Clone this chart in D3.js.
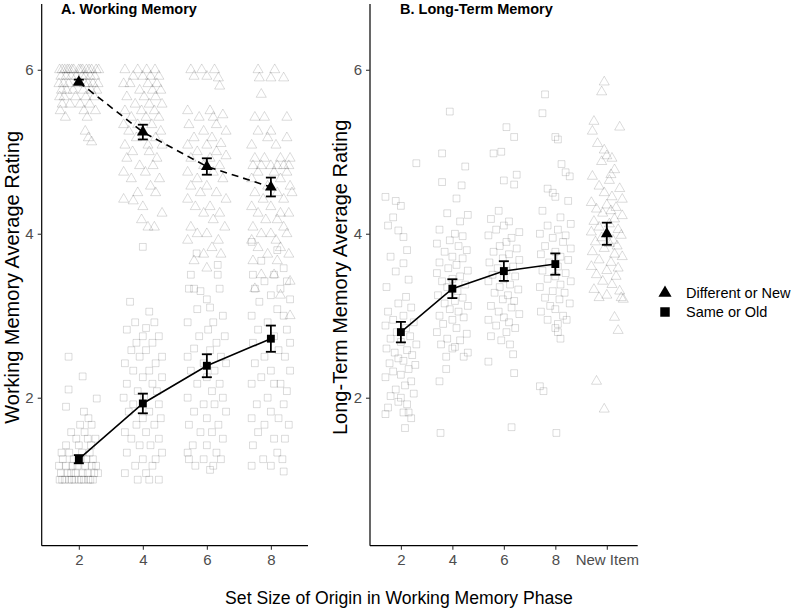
<!DOCTYPE html>
<html><head><meta charset="utf-8">
<script src="https://cdn.jsdelivr.net/npm/d3@7"></script>
<style>body{margin:0;background:#fff}svg{display:block;font-family:"Liberation Sans",Arial,sans-serif}</style>
</head><body>
<script>
// ---------- data ----------
const catsA = ["2","4","6","8"];
const catsB = ["2","4","6","8","New Item"];
const yTicks = [2,4,6];
const legendLabels = ["Different or New","Same or Old"];
const titleA = "A. Working Memory";
const titleB = "B. Long-Term Memory";
const yTitleA = "Working Memory Average Rating";
const yTitleB = "Long-Term Memory Average Rating";
const xTitle = "Set Size of Origin in Working Memory Phase";

// means and standard errors
const meanA_diff = [5.85,5.24,4.82,4.57];
const seA_diff   = [0.03,0.09,0.10,0.115];
const meanA_same = [1.25,1.93,2.39,2.72];
const seA_same   = [0.05,0.12,0.14,0.16];
const meanB_same = [2.80,3.33,3.545,3.63];
const seB_same   = [0.125,0.115,0.12,0.13];
const meanB_new  = [4.00];
const seB_new    = [0.135];

// individual participants: [jitter (fraction of category step), rating]
const A2_diff = [[-0.30,6.0],[-0.22,6.0],[-0.15,6.0],[-0.08,6.0],[0.0,6.0],[0.06,6.0],[0.12,6.0],[0.2,6.0],[0.27,6.0],[-0.26,6.0],[0.03,6.0],[-0.11,6.0],[0.16,6.0],[0.31,6.0],[-0.18,6.0],
[-0.28,5.92],[-0.12,5.92],[0.05,5.92],[0.18,5.92],[0.25,5.92],[-0.04,5.92],[0.1,5.92],[-0.2,5.92],
[-0.31,5.83],[-0.16,5.83],[-0.02,5.83],[0.09,5.83],[0.22,5.83],[0.3,5.83],[-0.24,5.83],[0.14,5.83],
[-0.27,5.75],[-0.09,5.75],[0.07,5.75],[0.19,5.75],[0.28,5.75],[-0.19,5.75],
[-0.23,5.67],[-0.05,5.67],[0.11,5.67],[0.24,5.67],[-0.3,5.67],
[-0.14,5.58],[0.02,5.58],[0.17,5.58],[-0.26,5.58],
[-0.29,5.5],[0.08,5.5],[0.26,5.5],[-0.21,5.42],[0.13,5.42],
[0.1,5.25],[0.15,5.17],[0.2,5.12]];
const A2_same = [[-0.3,1.0],[-0.22,1.0],[-0.15,1.0],[-0.07,1.0],[0.0,1.0],[0.08,1.0],[0.15,1.0],[0.22,1.0],[-0.26,1.0],[0.04,1.0],[0.18,1.0],[-0.11,1.0],
[-0.28,1.08],[-0.18,1.08],[-0.05,1.08],[0.06,1.08],[0.14,1.08],[0.24,1.08],[-0.12,1.08],[0.3,1.08],
[-0.31,1.17],[-0.2,1.17],[-0.02,1.17],[0.1,1.17],[0.2,1.17],[0.27,1.17],[-0.1,1.17],
[-0.25,1.25],[-0.08,1.25],[0.12,1.25],[0.22,1.25],[0.03,1.25],
[-0.15,1.33],[0.05,1.33],[0.17,1.33],[-0.27,1.33],
[0.0,1.42],[0.19,1.42],[-0.2,1.42],[-0.04,1.5],[0.14,1.5],[0.26,1.5],
[0.09,1.58],[-0.12,1.58],[0.2,1.67],[0.02,1.67],[0.15,1.75],[0.08,1.83],
[-0.2,1.89],[0.28,1.99],[-0.16,2.1],[0.06,2.26],[-0.16,2.5]];
const A4_diff = [[-0.28,6.0],[-0.08,6.0],[0.06,6.0],[0.19,6.0],[0.0,5.92],[0.25,5.92],[-0.15,5.92],[0.12,5.92],
[-0.2,5.83],[0.08,5.83],[0.22,5.83],[-0.3,5.83],[-0.05,5.75],[0.15,5.75],[0.28,5.75],
[-0.25,5.67],[0.02,5.67],[0.2,5.67],[-0.12,5.58],[0.1,5.58],[0.3,5.58],[-0.28,5.5],[-0.02,5.5],[0.18,5.5],
[-0.18,5.42],[0.05,5.42],[0.25,5.42],[-0.3,5.33],[-0.08,5.33],[0.14,5.33],[0.28,5.25],[-0.22,5.25],[0.0,5.25],
[-0.1,5.17],[0.2,5.17],[-0.28,5.08],[0.08,5.08],[0.3,5.08],[-0.16,5.0],[0.1,5.0],[0.22,4.92],[-0.25,4.92],
[-0.05,4.83],[0.16,4.83],[-0.3,4.75],[0.04,4.75],[0.26,4.67],[-0.18,4.67],[0.12,4.58],[-0.08,4.5],[0.2,4.5],
[-0.3,4.42],[-0.15,4.4],[0.0,4.33],[0.3,4.25],[-0.02,4.17],[0.08,4.08],[0.18,4.08]];
const A4_same = [[0.0,3.84],[-0.2,3.17],[0.1,3.05],[-0.12,2.92],[0.18,2.92],[0.05,2.85],[-0.25,2.83],[0.0,2.75],[0.25,2.75],[-0.1,2.67],[0.15,2.67],
[-0.18,2.58],[0.05,2.58],[0.3,2.5],[-0.05,2.5],[0.2,2.42],[-0.28,2.42],[0.1,2.33],[-0.15,2.33],[0.3,2.25],[0.0,2.25],
[-0.25,2.17],[0.15,2.17],[-0.08,2.08],[0.22,2.08],[-0.3,2.0],[0.02,2.0],[0.25,1.92],[-0.15,1.92],[0.1,1.83],[-0.22,1.83],
[0.0,1.75],[0.28,1.75],[-0.1,1.67],[0.18,1.67],[-0.28,1.58],[0.05,1.58],[0.25,1.5],[-0.18,1.5],[0.12,1.42],[-0.05,1.42],
[0.3,1.33],[-0.25,1.33],[0.0,1.25],[0.2,1.25],[-0.12,1.17],[0.15,1.17],[-0.28,1.08],[0.05,1.08],[0.25,1.0],[-0.08,1.0],[0.1,1.0]];
const A6_diff = [[-0.25,6.0],[-0.08,6.0],[0.12,6.0],[-0.2,5.92],[0.0,5.92],[0.18,5.9],[0.2,5.8],[0.05,5.5],[-0.3,5.5],[0.25,5.45],[-0.12,5.42],[0.1,5.42],
[-0.28,5.33],[0.15,5.33],[-0.05,5.25],[0.3,5.25],[-0.2,5.17],[0.08,5.17],[0.22,5.1],[-0.3,5.08],[0.0,5.08],[-0.15,5.0],[0.15,5.0],[0.3,4.95],
[-0.25,4.92],[0.05,4.92],[-0.05,4.83],[0.2,4.83],[-0.3,4.75],[0.1,4.75],[-0.15,4.67],[0.25,4.67],[0.0,4.58],[-0.25,4.58],[0.15,4.5],
[-0.1,4.5],[0.3,4.42],[-0.3,4.42],[0.05,4.33],[-0.18,4.33],[0.2,4.25],[-0.05,4.25],[0.1,4.17],[-0.25,4.08],[0.28,4.08],[0.0,4.0],
[-0.15,4.0],[0.18,3.92],[-0.3,3.92],[0.08,3.83],[-0.05,3.75],[0.22,3.75],[-0.2,3.67],[0.0,3.58]];
const A6_same = [[-0.25,3.5],[-0.16,3.76],[0.17,3.62],[0.17,3.5],[-0.28,3.33],[-0.2,3.33],[-0.1,3.3],[0.2,3.33],[0.0,3.2],[0.05,3.1],
[-0.15,3.08],[0.25,3.0],[-0.3,2.92],[0.1,2.92],[0.02,2.83],[-0.12,2.75],[0.28,2.75],[0.15,2.67],[-0.2,2.6],[0.05,2.58],[-0.3,2.5],[0.22,2.5],
[-0.05,2.42],[0.3,2.42],[0.12,2.33],[-0.25,2.33],[0.0,2.25],[-0.15,2.17],[0.2,2.17],[0.08,2.08],[-0.3,2.0],[0.25,2.0],[-0.05,1.92],[0.12,1.92],
[-0.2,1.83],[0.3,1.83],[0.0,1.75],[-0.28,1.67],[0.18,1.67],[-0.1,1.58],[0.08,1.58],[0.25,1.5],[-0.22,1.42],[0.0,1.42],[0.15,1.33],[-0.3,1.33],
[-0.05,1.25],[0.22,1.25],[0.1,1.17],[-0.18,1.17],[0.05,1.12],[-0.28,1.25]];
const A8_diff = [[-0.2,6.0],[0.06,6.0],[-0.18,5.9],[0.0,5.9],[0.2,5.9],[-0.15,5.7],[-0.25,5.42],[-0.1,5.42],[0.25,5.42],[-0.2,5.25],[0.0,5.25],[-0.05,5.17],
[0.25,5.17],[-0.3,5.08],[0.08,5.08],[-0.1,4.92],[0.15,4.92],[-0.25,4.92],[0.3,4.92],[-0.28,4.83],[-0.15,4.83],[0.0,4.83],[0.1,4.83],[0.2,4.83],[0.28,4.83],
[-0.2,4.75],[0.05,4.75],[0.25,4.75],[-0.3,4.67],[0.15,4.67],[-0.05,4.58],[0.3,4.58],[-0.25,4.5],[0.1,4.5],[0.33,4.5],[-0.12,4.42],[0.2,4.42],
[-0.3,4.33],[0.0,4.33],[0.15,4.25],[-0.2,4.25],[0.28,4.25],[-0.08,4.17],[0.1,4.17],[-0.28,4.08],[0.2,4.08],[0.0,4.0],[-0.15,4.0],[0.25,4.0],
[-0.3,3.92],[0.08,3.92],[-0.2,3.83],[0.15,3.83],[-0.05,3.75],[0.28,3.75],[-0.28,3.67],[0.1,3.67],[-0.15,3.5],[0.05,3.5],[0.3,3.42],[-0.25,3.33],
[0.15,3.25],[0.3,3.0]];
const A8_same = [[-0.3,3.9],[0.1,3.8],[-0.15,3.67],[0.2,3.58],[0.05,3.5],[-0.28,3.5],[0.25,3.42],[-0.1,3.42],[0.15,3.33],[-0.25,3.33],[0.0,3.25],[0.3,3.2],
[-0.18,3.17],[0.1,3.08],[-0.3,3.0],[0.2,3.0],[-0.05,2.92],[0.25,2.83],[-0.2,2.83],[0.05,2.75],[0.3,2.67],[-0.28,2.67],[0.12,2.58],[-0.1,2.5],
[0.22,2.5],[-0.25,2.42],[0.0,2.33],[0.3,2.33],[-0.15,2.25],[0.15,2.17],[-0.3,2.17],[0.05,2.17],[0.25,2.08],[-0.05,2.0],[-0.22,1.92],[0.2,1.92],
[0.0,1.83],[-0.3,1.75],[0.12,1.75],[-0.1,1.67],[0.28,1.67],[-0.2,1.58],[0.05,1.5],[0.22,1.5],[-0.28,1.42],[0.1,1.33],[-0.12,1.25],[0.18,1.25],
[-0.3,1.17],[0.0,1.17],[0.2,1.1]];
const B2_same = [[0.3,4.86],[-0.3,4.45],[-0.1,4.4],[0.0,4.34],[-0.15,4.2],[-0.25,4.1],[-0.05,4.04],[0.05,3.96],[0.12,3.8],[-0.2,3.72],[0.05,3.64],[-0.1,3.54],[0.15,3.44],[-0.28,3.35],[0.1,3.23],
[-0.05,3.15],[0.2,3.1],[-0.25,3.05],[0.05,3.0],[-0.15,2.95],[0.25,2.92],[-0.3,2.88],[0.1,2.85],[-0.08,2.8],[0.18,2.75],[-0.2,2.72],[0.0,2.68],[0.3,2.65],
[-0.28,2.6],[0.12,2.58],[-0.12,2.55],[0.22,2.52],[-0.05,2.48],[0.05,2.45],[-0.22,2.42],[0.28,2.4],[0.15,2.35],[-0.15,2.32],[0.0,2.28],[-0.3,2.25],
[0.2,2.2],[0.08,2.15],[-0.1,2.1],[0.25,2.05],[-0.2,2.02],[0.0,2.0],[-0.05,1.95],[0.12,1.92],[-0.25,1.88],[0.15,1.82],[-0.3,1.8],[0.05,1.82],[0.2,1.75],[0.08,1.63]];
const B4_same = [[-0.05,5.49],[-0.2,4.98],[0.25,4.82],[-0.2,4.63],[0.18,4.59],[0.08,4.43],[-0.1,4.25],[0.3,4.23],[0.15,4.15],[-0.25,4.05],[0.05,4.0],[0.2,3.97],
[-0.05,3.92],[-0.3,3.88],[0.12,3.85],[0.28,3.8],[-0.15,3.78],[0.0,3.72],[0.2,3.7],[-0.25,3.65],[0.08,3.62],[-0.08,3.58],[0.3,3.55],[-0.3,3.52],
[0.15,3.48],[0.0,3.45],[-0.2,3.42],[0.25,3.38],[-0.1,3.35],[0.1,3.3],[-0.28,3.25],[0.2,3.22],[0.05,3.18],[-0.15,3.15],[0.3,3.12],[-0.05,3.08],
[0.12,3.05],[-0.25,3.0],[0.22,2.98],[0.0,2.95],[-0.18,2.9],[0.08,2.85],[-0.3,2.8],[0.28,2.78],[-0.1,2.72],[0.15,2.7],[-0.22,2.65],[0.05,2.62],
[0.3,2.55],[0.22,2.5],[-0.12,2.5],[0.0,2.6],[-0.12,2.35],[-0.25,2.2],[-0.23,1.57]];
const B6_same = [[0.05,5.3],[0.2,5.18],[-0.05,5.0],[-0.2,4.98],[0.25,4.72],[0.0,4.65],[0.2,4.6],[-0.1,4.28],[-0.25,4.18],[0.1,4.15],[0.0,4.1],[-0.15,4.05],[0.3,4.02],
[-0.3,3.98],[0.15,3.95],[0.05,3.9],[-0.08,3.85],[0.25,3.82],[-0.2,3.78],[0.1,3.75],[-0.02,3.7],[0.3,3.68],[-0.28,3.65],[0.18,3.6],[-0.12,3.58],
[0.05,3.55],[-0.22,3.5],[0.22,3.48],[0.0,3.45],[-0.3,3.42],[0.12,3.38],[-0.08,3.35],[0.28,3.32],[-0.18,3.28],[0.08,3.25],[-0.02,3.2],[0.2,3.18],
[-0.25,3.12],[0.15,3.1],[-0.1,3.05],[0.3,3.02],[0.0,2.98],[-0.3,2.95],[0.1,2.92],[-0.15,2.88],[0.22,2.85],[0.05,2.8],[-0.25,2.75],[-0.05,2.7],
[0.12,2.65],[0.18,2.53],[-0.3,2.44],[0.2,2.3],[0.15,1.64]];
const B8_same = [[-0.2,5.7],[-0.25,5.47],[0.0,5.18],[0.05,5.15],[0.12,4.85],[0.2,4.75],[0.28,4.7],[-0.15,4.55],[-0.05,4.5],[0.0,4.45],[0.25,4.4],[-0.25,4.28],
[0.1,4.2],[0.3,4.12],[-0.15,4.1],[0.05,4.05],[-0.3,4.0],[0.2,3.98],[-0.05,3.95],[0.15,3.9],[-0.2,3.85],[0.3,3.82],[0.0,3.78],[-0.28,3.75],[0.1,3.72],
[0.25,3.68],[-0.12,3.65],[0.05,3.6],[-0.25,3.55],[0.2,3.52],[0.0,3.48],[-0.15,3.45],[0.3,3.42],[0.1,3.38],[-0.3,3.35],[-0.05,3.3],[0.18,3.28],
[-0.2,3.22],[0.08,3.2],[0.28,3.15],[-0.1,3.12],[0.0,3.08],[-0.28,3.05],[0.15,3.0],[0.22,2.95],[-0.15,2.95],[0.05,2.9],[0.0,2.85],[0.05,2.8],
[0.1,2.72],[-0.3,2.14],[-0.23,2.08],[0.02,1.57]];
const BNew_diff = [[-0.05,5.85],[-0.1,5.73],[-0.25,5.37],[-0.28,5.25],[0.25,5.3],[-0.18,5.1],[-0.05,5.02],[0.0,4.95],[0.1,4.92],[-0.1,4.88],[0.15,4.78],[0.08,4.72],
[-0.28,4.7],[0.05,4.65],[-0.15,4.58],[0.25,4.55],[-0.05,4.5],[0.1,4.45],[0.3,4.42],[-0.3,4.38],[0.0,4.35],[0.18,4.32],[-0.2,4.3],[0.08,4.28],
[-0.08,4.25],[0.3,4.22],[0.15,4.18],[-0.25,4.15],[0.05,4.12],[-0.15,4.08],[0.22,4.05],[-0.3,4.02],[0.0,4.0],[0.28,3.98],[-0.1,3.95],[0.12,3.92],
[-0.22,3.9],[0.05,3.88],[0.2,3.85],[-0.05,3.82],[-0.28,3.78],[0.15,3.75],[0.3,3.72],[-0.15,3.68],[0.08,3.65],[-0.3,3.6],[0.22,3.58],[0.0,3.55],
[-0.2,3.5],[0.18,3.48],[-0.08,3.42],[0.1,3.38],[-0.25,3.32],[0.25,3.3],[0.0,3.25],[0.28,3.22],[0.32,3.2],[-0.15,3.22],[0.15,2.98],[0.22,2.82],[-0.2,2.2],[-0.05,1.86]];

// ---------- drawing ----------
const W = 800, H = 609;
const svg = d3.select("body").append("svg").attr("width", W).attr("height", H);

const yTop = 5, yBot = 545.7;
const y = d3.scaleLinear().domain([0.195, 6.79]).range([yBot, yTop]);

const xA = d3.scalePoint().domain(catsA).range([41.7, 308]).padding(0.58);
const xB = d3.scalePoint().domain(catsB).range([370, 637.7]).padding(0.6);

const triSmall = d3.symbol().type(d3.symbolTriangle).size(44)();
const sqSmall  = d3.symbol().type(d3.symbolSquare).size(46)();
const triBig   = d3.symbol().type(d3.symbolTriangle).size(60)();
const sqBig    = d3.symbol().type(d3.symbolSquare).size(62)();

function drawPanel(x, cats, groups, series) {
  const g = svg.append("g");
  const step = x.step();
  groups.forEach(gr => {
    g.append("g").selectAll("path").data(gr.pts).join("path")
      .attr("d", gr.shape === "tri" ? triSmall : sqSmall)
      .attr("transform", d => `translate(${x(gr.cat) + d[0]*step},${y(d[1])})`)
      .attr("fill", "none").attr("stroke", "#000").attr("stroke-opacity", 0.16).attr("stroke-width", 0.9);
  });
  series.forEach(s => {
    const pts = s.cats.map((c,i) => ({c, m: s.mean[i], se: s.se[i]}));
    if (pts.length > 1) {
      g.append("path").datum(pts)
        .attr("d", d3.line().x(d => x(d.c)).y(d => y(d.m)))
        .attr("fill", "none").attr("stroke", "#000").attr("stroke-width", 1.6)
        .attr("stroke-dasharray", s.dashed ? "7,5" : null);
    }
    const eb = g.append("g").selectAll("g").data(pts).join("g")
      .attr("stroke", "#000").attr("stroke-width", 1.8);
    eb.append("line").attr("x1", d => x(d.c)).attr("x2", d => x(d.c))
      .attr("y1", d => y(d.m - d.se)).attr("y2", d => y(d.m + d.se));
    eb.append("line").attr("x1", d => x(d.c) - 5).attr("x2", d => x(d.c) + 5)
      .attr("y1", d => y(d.m - d.se)).attr("y2", d => y(d.m - d.se));
    eb.append("line").attr("x1", d => x(d.c) - 5).attr("x2", d => x(d.c) + 5)
      .attr("y1", d => y(d.m + d.se)).attr("y2", d => y(d.m + d.se));
    g.append("g").selectAll("path").data(pts).join("path")
      .attr("d", s.shape === "tri" ? triBig : sqBig)
      .attr("transform", d => `translate(${x(d.c)},${y(d.m)})`)
      .attr("fill", "#000");
  });
  const r = x.range();
  const xAxis = g.append("g").attr("transform", `translate(0,${yBot})`)
    .call(d3.axisBottom(x).tickSize(4).tickPadding(5));
  xAxis.select(".domain").attr("d", `M${r[0]},0H${r[1]}`).attr("stroke", "#000").attr("stroke-width", 1.2);
  xAxis.selectAll(".tick line").attr("stroke", "#333").attr("stroke-width", 1.1);
  xAxis.selectAll(".tick text").attr("fill", "#4d4d4d").attr("font-size", 15)
    .attr("font-family", "Liberation Sans, Arial, sans-serif");
  const yAxis = g.append("g").attr("transform", `translate(${r[0]},0)`)
    .call(d3.axisLeft(y).tickValues(yTicks).tickFormat(d3.format("d")).tickSize(4).tickPadding(4));
  yAxis.select(".domain").attr("d", `M0,${yBot}V${yTop - 1}`).attr("stroke", "#000").attr("stroke-width", 1.2);
  yAxis.selectAll(".tick line").attr("stroke", "#333").attr("stroke-width", 1.1);
  yAxis.selectAll(".tick text").attr("fill", "#4d4d4d").attr("font-size", 15)
    .attr("font-family", "Liberation Sans, Arial, sans-serif");
  return g;
}

drawPanel(xA, catsA, [
  {cat:"2", pts:A2_diff, shape:"tri"}, {cat:"2", pts:A2_same, shape:"sq"},
  {cat:"4", pts:A4_diff, shape:"tri"}, {cat:"4", pts:A4_same, shape:"sq"},
  {cat:"6", pts:A6_diff, shape:"tri"}, {cat:"6", pts:A6_same, shape:"sq"},
  {cat:"8", pts:A8_diff, shape:"tri"}, {cat:"8", pts:A8_same, shape:"sq"}
], [
  {cats:catsA, mean:meanA_diff, se:seA_diff, shape:"tri", dashed:true},
  {cats:catsA, mean:meanA_same, se:seA_same, shape:"sq", dashed:false}
]);

drawPanel(xB, catsB, [
  {cat:"2", pts:B2_same, shape:"sq"}, {cat:"4", pts:B4_same, shape:"sq"},
  {cat:"6", pts:B6_same, shape:"sq"}, {cat:"8", pts:B8_same, shape:"sq"},
  {cat:"New Item", pts:BNew_diff, shape:"tri"}
], [
  {cats:catsA, mean:meanB_same, se:seB_same, shape:"sq", dashed:false},
  {cats:["New Item"], mean:meanB_new, se:seB_new, shape:"tri", dashed:false}
]);

// titles
svg.append("text").attr("x", 61).attr("y", 14).attr("font-size", 14.5).attr("font-weight", "bold").text(titleA);
svg.append("text").attr("x", 400).attr("y", 14).attr("font-size", 14.5).attr("font-weight", "bold").text(titleB);
const midY = (yTop + yBot) / 2 + 2;
svg.append("text").attr("transform", `translate(18.5,${midY}) rotate(-90)`).attr("text-anchor", "middle")
  .attr("font-size", 20).text(yTitleA);
svg.append("text").attr("transform", `translate(346.5,${midY}) rotate(-90)`).attr("text-anchor", "middle")
  .attr("font-size", 20).text(yTitleB);
svg.append("text").attr("x", 399).attr("y", 604).attr("text-anchor", "middle").attr("font-size", 17.6).text(xTitle);

// legend
const leg = svg.append("g");
const legShapes = [d3.symbol().type(d3.symbolTriangle).size(75)(), d3.symbol().type(d3.symbolSquare).size(90)()];
legendLabels.forEach((lab, i) => {
  const cy = 293 + i * 19;
  leg.append("path").attr("d", legShapes[i]).attr("transform", `translate(665,${cy})`).attr("fill", "#000");
  leg.append("text").attr("x", 686).attr("y", cy + 5).attr("font-size", 14.5).text(lab);
});
</script>
</body></html>
